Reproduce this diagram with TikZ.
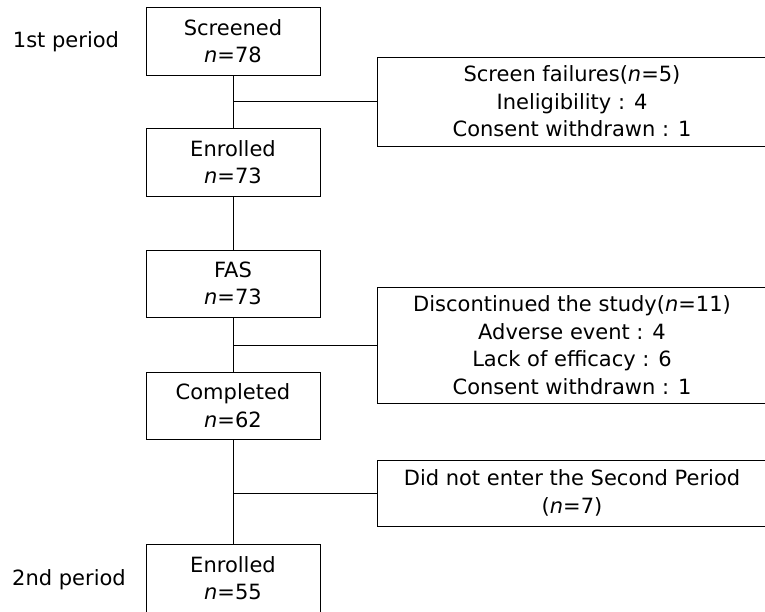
\documentclass[tikz,border=0pt]{standalone}
\usepackage{fontspec}
\setmainfont{DejaVu Sans}
\begin{document}
\begin{tikzpicture}[x=1pt,y=-1pt,
  every node/.style={font=\fontsize{21}{27.5}\selectfont, inner sep=0pt, outer sep=0pt, align=center},
  mainbox/.style={draw, line width=1pt, minimum width=174pt},
  sidebox/.style={draw, line width=1pt, minimum width=390pt},
  link/.style={line width=1pt}]
\clip (0,0) rectangle (765,611);
\fill[white] (0,0) rectangle (765,611);
\node[mainbox, minimum height=68pt] (s) at (233,41) {Screened\\\textit{n}=78};
\node[mainbox, minimum height=68pt] (e1) at (233,162) {Enrolled\\\textit{n}=73};
\node[mainbox, minimum height=67pt] (fas) at (233,283.5) {FAS\\\textit{n}=73};
\node[mainbox, minimum height=67pt] (c) at (233,405.5) {Completed\\\textit{n}=62};
\node[mainbox, minimum height=68pt] (e2) at (233,578) {Enrolled\\\textit{n}=55};
\node[sidebox, minimum height=89pt] (r1) at (572,101.5) {Screen failures(\textit{n}=5)\\Ineligibility : 4\\Consent withdrawn : 1};
\node[sidebox, minimum height=116pt] (r2) at (572,345) {Discontinued the study(\textit{n}=11)\\Adverse event : 4\\Lack of efficacy : 6\\Consent withdrawn : 1};
\node[sidebox, minimum height=66pt] (r3) at (572,493) {Did not enter the Second Period\\(\textit{n}=7)};
\node (p1) at (66,42) {1st period};
\node (p2) at (69,580) {2nd period};
\draw[link] (s.south) -- (e1.north);
\draw[link] (e1.south) -- (fas.north);
\draw[link] (fas.south) -- (c.north);
\draw[link] (c.south) -- (e2.north);
\draw[link] (s.south |- r1.west) -- (r1.west);
\draw[link] (fas.south |- r2.west) -- (r2.west);
\draw[link] (c.south |- r3.west) -- (r3.west);
\end{tikzpicture}
\end{document}
